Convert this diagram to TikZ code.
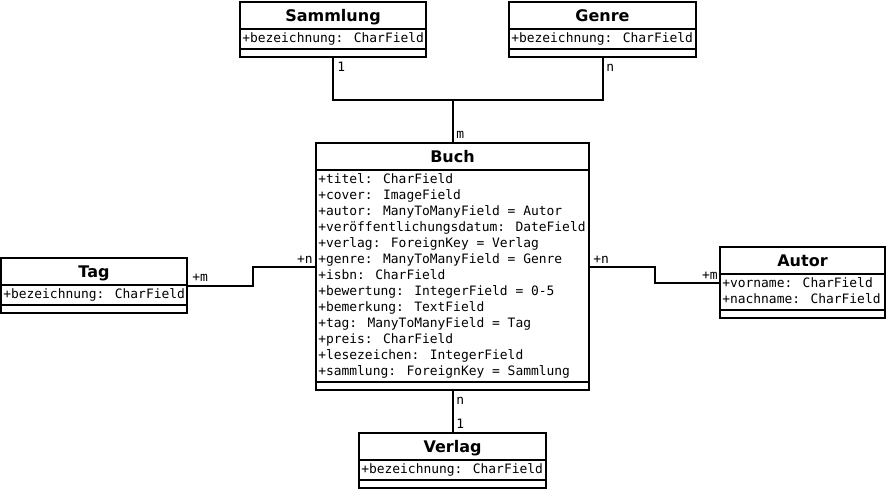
\documentclass[tikz,border=0pt]{standalone}
\usepackage{fontspec}
\usetikzlibrary{fit}
\newfontfamily\umltitlefont{DejaVu Sans}
\newfontfamily\umlmonofont{DejaVu Sans Mono}
\tikzset{
  classbox/.style={draw, line width=1.5pt, inner sep=0pt},
  rule/.style={line width=1.5pt},
  assoc/.style={line width=1.5pt},
  titletext/.style={font=\umltitlefont\bfseries\fontsize{12}{14}\selectfont, anchor=base, inner sep=0pt},
  attrtext/.style={font=\umlmonofont\fontsize{9.7}{12}\selectfont, align=left, anchor=north west, inner sep=0pt},
  mult/.style={font=\umlmonofont\fontsize{9.7}{12}\selectfont, inner sep=0pt},
}
\newcommand\umlclass[7]{%
  \pgfmathsetmacro\umlsep{#3+27}%
  \pgfmathsetmacro\umlattr{#3+31+16*#5}%
  \pgfmathsetmacro\umlbot{\umlattr+8}%
  \pgfmathsetmacro\umlcx{(#2+#4)/2}%
  \pgfmathsetmacro\umltb{#3+19.5}%
  \pgfmathsetmacro\umlfb{\umlsep+2}%
  \node[classbox, fit={(#2,#3) (#4,\umlbot)}] (#1) {};
  \draw[rule] (#2,\umlsep) -- (#4,\umlsep);
  \draw[rule] (#2,\umlattr) -- (#4,\umlattr);
  \node[titletext] (#1-title) at (\umlcx,\umltb) {#6};
  \node[attrtext] (#1-attrs) at (#2+2,\umlfb) {\strut #7};
}
\begin{document}
\begin{tikzpicture}[x=0.75pt,y=-0.75pt]
\useasboundingbox (0,0) rectangle (887,492);
\fill[white] (0,0) rectangle (887,492);

\umlclass{sammlung}{240}{2}{426}{1}{Sammlung}{+bezeichnung: CharField}
\umlclass{genre}{509}{2}{696}{1}{Genre}{+bezeichnung: CharField}
\umlclass{buch}{316}{143}{589}{13}{Buch}{+titel: CharField\\+cover: ImageField\\+autor: ManyToManyField = Autor\\+veröffentlichungsdatum: DateField\\+verlag: ForeignKey = Verlag\\+genre: ManyToManyField = Genre\\+isbn: CharField\\+bewertung: IntegerField = 0-5\\+bemerkung: TextField\\+tag: ManyToManyField = Tag\\+preis: CharField\\+lesezeichen: IntegerField\\+sammlung: ForeignKey = Sammlung}
\umlclass{tag}{1}{258}{187}{1}{Tag}{+bezeichnung: CharField}
\umlclass{autor}{720}{247}{885}{2}{Autor}{+vorname: CharField\\+nachname: CharField}
\umlclass{verlag}{359}{433}{546}{1}{Verlag}{+bezeichnung: CharField}

\coordinate (topj) at (452.5,100);
\coordinate (tagbend) at (253,267);
\coordinate (autbend) at (655,267);

\draw[assoc] (sammlung.south) |- (topj) -| (genre.south);
\draw[assoc] (buch.north) -- (topj);
\draw[assoc] (tag.east) -| (tagbend) -- (buch.west |- tagbend);
\draw[assoc] (buch.east |- autbend) -- (autbend) |- (autor.west);
\draw[assoc] (buch.south) -- (verlag.north);

\node[mult, anchor=base west] (m-samm) at (337,71) {1};
\node[mult, anchor=base west] (m-genre) at (606,71) {n};
\node[mult, anchor=base west] (m-buchtop) at (456,138) {m};
\node[mult, anchor=base west] (m-tag) at (192,281) {+m};
\node[mult, anchor=base east] (m-buchl) at (313,263) {+n};
\node[mult, anchor=base west] (m-buchr) at (593,263) {+n};
\node[mult, anchor=base east] (m-autor) at (718,279) {+m};
\node[mult, anchor=base west] (m-buchbot) at (456,404) {n};
\node[mult, anchor=base west] (m-verlag) at (456,428) {1};
\end{tikzpicture}
\end{document}
